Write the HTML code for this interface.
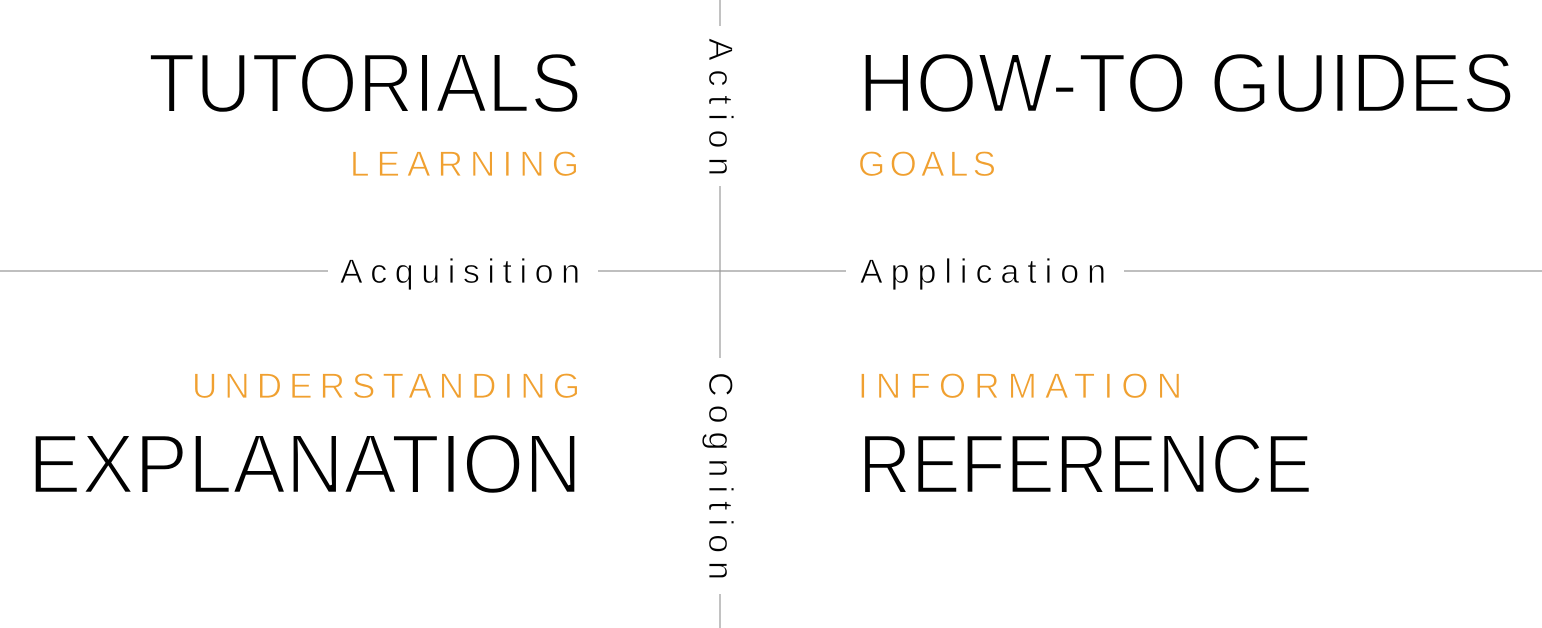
<!DOCTYPE html>
<html><head><meta charset="utf-8"><style>
html,body{margin:0;padding:0;background:#fff;}
svg{display:block;}
text{font-family:"Liberation Sans",sans-serif;}
</style></head><body>
<svg width="1542" height="628" viewBox="0 0 1542 628" xmlns="http://www.w3.org/2000/svg">
<g stroke="#999" stroke-width="1.2">
<line x1="720" y1="0" x2="720" y2="26"/>
<line x1="720" y1="186" x2="720" y2="358"/>
<line x1="720" y1="594" x2="720" y2="628"/>
<line x1="0" y1="271" x2="328" y2="271"/>
<line x1="598" y1="271" x2="846" y2="271"/>
<line x1="1124" y1="271" x2="1542" y2="271"/>
</g>
<g fill="#000" font-size="84" stroke="#fff" stroke-width="2.4">
<text x="148" y="112" textLength="434" lengthAdjust="spacingAndGlyphs">TUTORIALS</text>
<text x="858" y="112" textLength="657" lengthAdjust="spacingAndGlyphs">HOW-TO GUIDES</text>
<text x="28" y="493" textLength="554" lengthAdjust="spacingAndGlyphs">EXPLANATION</text>
<text x="858" y="493" textLength="455" lengthAdjust="spacingAndGlyphs">REFERENCE</text>
</g>
<g fill="#f0a030" font-size="35" stroke="#fff" stroke-width="0.8">
<text x="350" y="176" textLength="229" lengthAdjust="spacing">LEARNING</text>
<text x="858" y="176" textLength="138" lengthAdjust="spacing">GOALS</text>
<text x="192" y="398" textLength="388" lengthAdjust="spacing">UNDERSTANDING</text>
<text x="858" y="398" textLength="324" lengthAdjust="spacing">INFORMATION</text>
</g>
<g fill="#000" font-size="34" stroke="#fff" stroke-width="0.8">
<text x="340" y="283" textLength="240" lengthAdjust="spacing">Acquisition</text>
<text x="860" y="283" textLength="246" lengthAdjust="spacing">Application</text>
<text transform="translate(709,38) rotate(90)" x="0" y="0" textLength="138" lengthAdjust="spacing">Action</text>
<text transform="translate(709,372) rotate(90)" x="0" y="0" textLength="208" lengthAdjust="spacing">Cognition</text>
</g>
</svg>
</body></html>
